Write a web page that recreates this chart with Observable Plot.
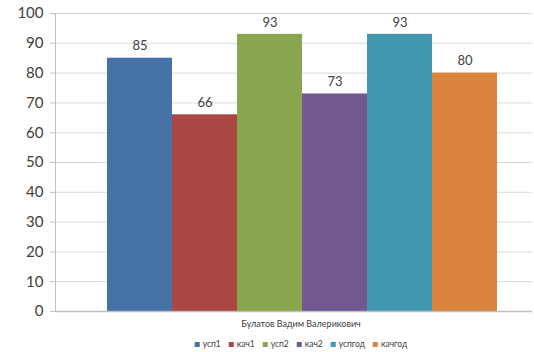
<!DOCTYPE html>
<html><head><meta charset="utf-8">
<script src="https://cdn.jsdelivr.net/npm/d3@7"></script>
<script src="https://cdn.jsdelivr.net/npm/@observablehq/plot@0.6"></script>
<style>
body{margin:0;background:#fff;font-family:Lato,"Open Sans",sans-serif;}
#wrap{position:relative;width:534px;height:352px;overflow:hidden;}
#cat{position:absolute;left:301px;top:318px;transform:translateX(-50%);font-size:9px;color:#404040;white-space:nowrap;}
#legend{position:absolute;left:301px;top:339px;transform:translateX(-50%);display:flex;gap:8px;font-size:8.5px;color:#404040;white-space:nowrap;align-items:center;}
#legend span.sw{display:inline-block;width:5px;height:5px;margin-right:3px;vertical-align:middle;}
</style></head><body><div id="wrap"></div>
<script>
const series = ["усп1","кач1","усп2","кач2","успгод","качгод"];
const values = [85,66,93,73,93,80];
const colors = ["#4572a7","#aa4643","#89a54e","#71588f","#4198af","#db843d"];
const category = "Булатов Вадим Валерикович";
const yTicks = [0,10,20,30,40,50,60,70,80,90,100];

const data = series.map((s,i)=>({series:s, value:values[i]}));

const chart = Plot.plot({
  width:534, height:318,
  marginLeft:55, marginRight:2, marginTop:13, marginBottom:7,
  style:{fontFamily:"Lato, 'Open Sans', sans-serif", background:"#fff"},
  x:{domain:series, range:[105,498], padding:0, axis:null},
  y:{domain:[0,100]},
  color:{domain:series, range:colors},
  marks:[
    Plot.gridY(yTicks,{stroke:"#d9d9d9", strokeOpacity:1}),
    Plot.axisY(yTicks,{tickSize:5, stroke:"#bfbfbf", text:null, label:null}),
    Plot.axisY(yTicks,{tickSize:0, tickPadding:12, fontSize:15, fill:"#404040", tickFormat:d=>String(d), label:null}),
    Plot.barY(data,{x:"series", y:"value", fill:"series"}),
    Plot.text(data,{x:"series", y:"value", text:d=>String(d.value), dy:-12, fontSize:13, fill:"#404040"}),
    Plot.frame({anchor:"left", stroke:"#bfbfbf"}),
    Plot.ruleY([0],{stroke:"#bfbfbf", strokeWidth:1.5})
  ]
});
const wrap = document.getElementById("wrap");
wrap.appendChild(chart);
const cat = document.createElement("div");
cat.id="cat"; cat.textContent = category;
wrap.appendChild(cat);
const leg = document.createElement("div");
leg.id="legend";
series.forEach((s,i)=>{
  const it=document.createElement("span");
  const sw=document.createElement("span");
  sw.className="sw"; sw.style.background=colors[i];
  it.appendChild(sw);
  it.appendChild(document.createTextNode(s));
  leg.appendChild(it);
});
wrap.appendChild(leg);
</script></body></html>
